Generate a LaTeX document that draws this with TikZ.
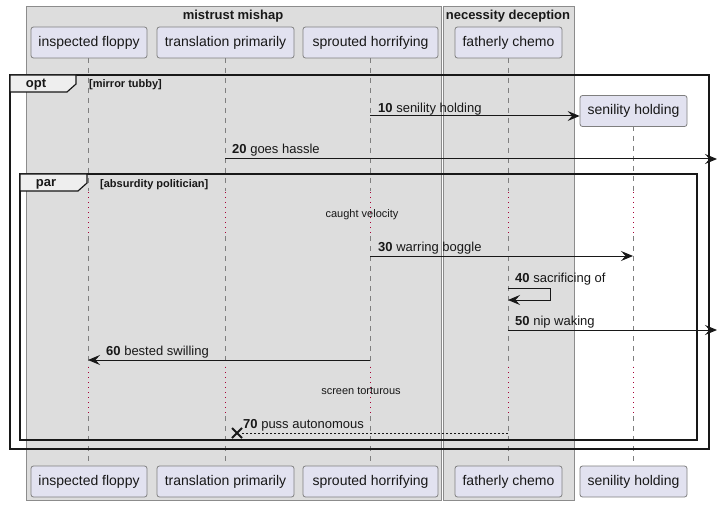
\documentclass[tikz,border=0pt]{standalone}
\usepackage{fontspec}
\setmainfont{Liberation Sans}
\usetikzlibrary{arrows.meta}
\definecolor{grpfill}{HTML}{DDDDDD}
\definecolor{grpline}{HTML}{8C8C8C}
\definecolor{partfill}{HTML}{E2E2F0}
\definecolor{partline}{HTML}{7F7F7F}
\definecolor{lifeline}{HTML}{7F7F7F}
\definecolor{delayline}{HTML}{A80036}
\definecolor{tabfill}{HTML}{EEEEEE}
\definecolor{ink}{HTML}{181818}
\tikzset{
  grpbox/.style={fill=grpfill, draw=grpline, line width=0.8pt},
  grptitle/.style={font=\fontsize{13}{15}\selectfont\bfseries, text=ink, inner sep=0pt},
  part/.style={draw=partline, fill=partfill, rounded corners=2.5pt, line width=0.8pt,
    minimum height=31pt, inner sep=0pt, font=\fontsize{14}{16}\selectfont, text=ink},
  lline/.style={draw=lifeline, line width=0.8pt, dash pattern=on 5pt off 5pt},
  dline/.style={draw=delayline, line width=0.8pt, dash pattern=on 1pt off 4pt},
  frame/.style={draw=ink, line width=1.5pt},
  tab/.style={draw=ink, fill=tabfill, line width=1.2pt},
  tablbl/.style={font=\fontsize{13}{15}\selectfont\bfseries, text=ink, inner sep=0pt},
  guard/.style={font=\fontsize{11}{13}\selectfont\bfseries, text=ink, inner sep=0pt, anchor=west},
  msg/.style={draw=ink, line width=1pt, -{Stealth[length=12pt,width=10pt,inset=4.5pt]}},
  rmsg/.style={draw=ink, line width=0.9pt, dash pattern=on 2pt off 2pt},
  mlbl/.style={font=\fontsize{13}{15}\selectfont, text=ink, inner sep=0pt, anchor=west},
  dlbl/.style={font=\fontsize{11}{13}\selectfont, text=ink, inner sep=0pt},
}
\begin{document}
\begin{tikzpicture}[x=1pt,y=-1pt]
\useasboundingbox (0,0) rectangle (717,505);
\fill[white] (0,0) rectangle (717,505);
% groups
\draw[grpbox] (26,6) rectangle (441,500);
\draw[grpbox] (443,6) rectangle (574,500);
\node[grptitle] (g1) at (233,16) {mistrust mishap};
\node[grptitle] (g2) at (508,16) {necessity deception};
% lifelines
\foreach \x in {88,225,370,508} {
  \draw[lline] (\x,58) -- (\x,191);
  \draw[dline] (\x,192) -- (\x,233);
  \draw[lline] (\x,236) -- (\x,366);
  \draw[dline] (\x,367) -- (\x,413);
  \draw[lline] (\x,416) -- (\x,466);
}
\draw[lline] (633,126) -- (633,191);
\draw[dline] (633,192) -- (633,233);
\draw[lline] (633,236) -- (633,366);
\draw[dline] (633,367) -- (633,413);
\draw[lline] (633,416) -- (633,466);
% participants top
\node[part, minimum width=116pt] (a) at (89,42.5) {inspected floppy};
\node[part, minimum width=137pt] (b) at (225.5,42.5) {translation primarily};
\node[part, minimum width=135pt] (c) at (370.5,42.5) {sprouted horrifying};
\node[part, minimum width=107pt] (d) at (508.5,42.5) {fatherly chemo};
\node[part, minimum width=107pt] (e) at (633.5,111) {senility holding};
% participants bottom
\node[part, minimum width=116pt] (a2) at (89,481.5) {inspected floppy};
\node[part, minimum width=137pt] (b2) at (225.5,481.5) {translation primarily};
\node[part, minimum width=135pt] (c2) at (370.5,481.5) {sprouted horrifying};
\node[part, minimum width=107pt] (d2) at (508.5,481.5) {fatherly chemo};
\node[part, minimum width=107pt] (e2) at (633.5,481.5) {senility holding};
% opt frame
\draw[frame] (10,75) rectangle (709,449);
\draw[tab] (10,75) -- (76,75) -- (76,84) -- (67,92) -- (10,92) -- cycle;
\node[tablbl] (optl) at (36,85) {opt};
\node[guard] (optg) at (89,85) {[mirror tubby]};
% par frame
\draw[frame] (20,174) rectangle (697,440);
\draw[tab] (20,174) -- (87,174) -- (87,183) -- (78,191) -- (20,191) -- cycle;
\node[tablbl] (parl) at (46,184.5) {par};
\node[guard] (parg) at (100,185) {[absurdity politician]};
% delays
\node[dlbl] (dl1) at (362,215) {caught velocity};
\node[dlbl] (dl2) at (361,391) {screen torturous};
% messages
\coordinate (m10s) at (370,116);
\draw[msg] (m10s) -- (m10s -| e.west);
\node[mlbl] (l10) at (378,109) {\textbf{10} senility holding};
\coordinate (m20s) at (225,159);
\coordinate (m20e) at (717,159);
\draw[msg] (m20s) -- (m20e);
\node[mlbl] (l20) at (232,150.5) {\textbf{20} goes hassle};
\coordinate (m30s) at (370,256);
\coordinate (m30e) at (633,256);
\draw[msg] (m30s) -- (m30e);
\node[mlbl] (l30) at (378,248.5) {\textbf{30} warring boggle};
\coordinate (m40s) at (508,288);
\coordinate (m40e) at (508,300);
\draw[msg] (m40s) -- (550,288) -- (550,300) -- (m40e);
\node[mlbl] (l40) at (515,279.5) {\textbf{40} sacrificing of};
\coordinate (m50s) at (508,330);
\coordinate (m50e) at (717,330);
\draw[msg] (m50s) -- (m50e);
\node[mlbl] (l50) at (515,322.5) {\textbf{50} nip waking};
\coordinate (m60s) at (370,360);
\coordinate (m60e) at (88,360);
\draw[msg] (m60s) -- (m60e);
\node[mlbl] (l60) at (106,352.5) {\textbf{60} bested swilling};
\coordinate (m70s) at (508,433);
\coordinate (m70e) at (241,433);
\draw[rmsg] (m70s) -- (m70e);
\draw[ink, line width=1.8pt] (232,428) -- (242,438) (232,438) -- (242,428);
\node[mlbl] (l70) at (243,425) {\textbf{70} puss autonomous};
\end{tikzpicture}
\end{document}
